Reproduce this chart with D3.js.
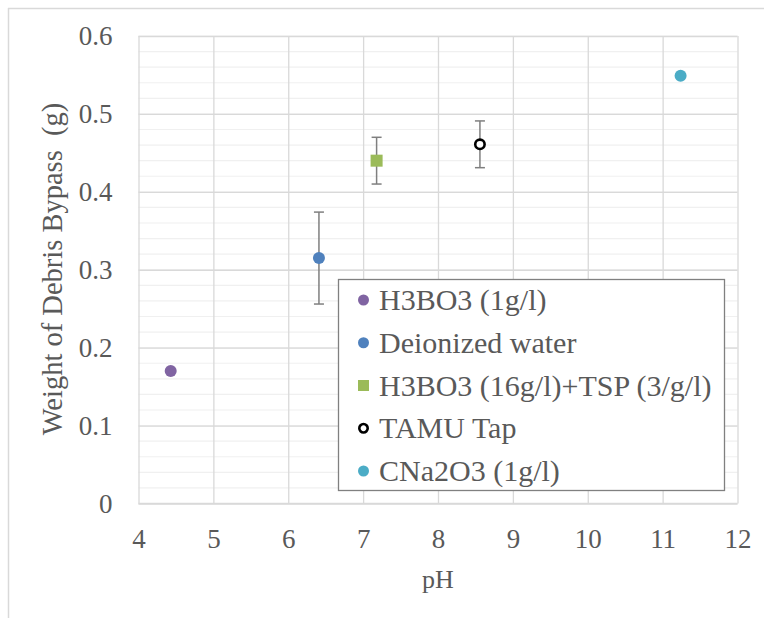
<!DOCTYPE html>
<html>
<head>
<meta charset="utf-8">
<script src="https://cdn.jsdelivr.net/npm/d3@7"></script>
<style>
  body { margin: 0; background: #fff; }
  text { font-family: "Liberation Serif", "Times New Roman", serif; fill: #595959; }
</style>
</head>
<body>
<div id="chart"></div>
<script>
// data
var seriesNames = ["H3BO3 (1g/l)", "Deionized water", "H3BO3 (16g/l)+TSP (3/g/l)", "TAMU Tap", "CNa2O3 (1g/l)"];
var phValues = [4.43, 6.41, 7.18, 8.56, 11.24];
var weights = [0.17, 0.315, 0.44, 0.461, 0.549];
var errors = [0, 0.059, 0.03, 0.03, 0];
var xTicks = [4, 5, 6, 7, 8, 9, 10, 11, 12];
var yTicks = [0, 0.1, 0.2, 0.3, 0.4, 0.5, 0.6];

var colors = ["#8064A2", "#4F81BD", "#9BBB59", "#000000", "#4BACC6"];
var shapes = ["circle", "circle", "square", "ring", "circle"];

var W = 764, H = 618;
var margin = {top: 36, right: 26.5, bottom: 114.5, left: 138.5};
var width = W - margin.left - margin.right;
var height = H - margin.top - margin.bottom;
var serif = '"Liberation Serif", "Times New Roman", serif';

var svg = d3.select("#chart").append("svg")
    .attr("width", W)
    .attr("height", H);

// outer frame (only top and left show)
svg.append("line").attr("x1", 8).attr("x2", W).attr("y1", 8.5).attr("y2", 8.5)
    .attr("stroke", "#d9d9d9").attr("stroke-width", 1.5);
svg.append("line").attr("x1", 8.5).attr("x2", 8.5).attr("y1", 8).attr("y2", H)
    .attr("stroke", "#d9d9d9").attr("stroke-width", 1.5);

var g = svg.append("g")
    .attr("transform", "translate(" + margin.left + "," + margin.top + ")");

var x = d3.scaleLinear().domain([4, 12]).range([0, width]);
var y = d3.scaleLinear().domain([0, 0.6]).range([height, 0]);

// minor horizontal grid
var minor = d3.range(0, 0.6001, 0.02);
g.append("g").selectAll("line")
    .data(minor)
  .enter().append("line")
    .attr("x1", 0).attr("x2", width)
    .attr("y1", function(d) { return y(d); })
    .attr("y2", function(d) { return y(d); })
    .attr("stroke", "#f0f0f0").attr("stroke-width", 1.2);

// major grid
var gridY = d3.axisLeft(y).tickValues(yTicks).tickSize(-width).tickFormat("");
g.append("g").attr("class", "grid").call(gridY);
var gridX = d3.axisBottom(x).tickValues(xTicks).tickSize(-height).tickFormat("");
g.append("g").attr("class", "grid").attr("transform", "translate(0," + height + ")").call(gridX);
g.selectAll(".grid .domain").remove();
g.selectAll(".grid line").attr("stroke", "#d9d9d9").attr("stroke-width", 1.3);

// axis line
g.append("line").attr("x1", 0).attr("x2", width).attr("y1", height).attr("y2", height)
    .attr("stroke", "#d9d9d9").attr("stroke-width", 1.5);

// tick labels
var axisB = d3.axisBottom(x).tickValues(xTicks).tickSize(0).tickPadding(44).tickFormat(d3.format("d"));
var xa = g.append("g").attr("transform", "translate(0," + height + ")").call(axisB);
var axisL = d3.axisLeft(y).tickValues(yTicks).tickSize(0).tickPadding(26)
    .tickFormat(function(d) { return d === 0 ? "0" : d3.format(".1f")(d); });
var ya = g.append("g").call(axisL);
[xa, ya].forEach(function(a) {
  a.attr("font-family", null);
  a.select(".domain").remove();
  a.selectAll("text").attr("font-size", 27).attr("fill", "#595959")
      .style("font-family", serif);
});
xa.selectAll("text").attr("dy", "0");
ya.selectAll("text").attr("dy", "0.33em");

// axis titles
svg.append("text")
    .attr("x", margin.left + width / 2).attr("y", 588)
    .attr("text-anchor", "middle").attr("font-size", 26)
    .style("font-family", serif)
    .text("pH");
svg.append("text")
    .attr("transform", "translate(52," + 269 + ") rotate(-90)")
    .attr("text-anchor", "middle").attr("font-size", 28.5)
    .attr("dy", "0.35em")
    .style("font-family", serif)
    .style("white-space", "pre")
    .text("Weight of Debris Bypass  (g)");

// error bars
var idx = d3.range(weights.length).filter(function(i) { return errors[i] > 0; });
var eb = g.append("g").selectAll("g").data(idx).enter().append("g")
    .attr("stroke", "#7f7f7f").attr("stroke-width", 1.5);
eb.append("line")
    .attr("x1", function(i) { return x(phValues[i]); })
    .attr("x2", function(i) { return x(phValues[i]); })
    .attr("y1", function(i) { return y(weights[i] + errors[i]); })
    .attr("y2", function(i) { return y(weights[i] - errors[i]); });
[1, -1].forEach(function(s) {
  eb.append("line")
      .attr("x1", function(i) { return x(phValues[i]) - 5; })
      .attr("x2", function(i) { return x(phValues[i]) + 5; })
      .attr("y1", function(i) { return y(weights[i] + s * errors[i]); })
      .attr("y2", function(i) { return y(weights[i] + s * errors[i]); });
});

function drawMarker(sel, i, r) {
  if (shapes[i] === "square") {
    sel.append("rect").attr("x", -r).attr("y", -r).attr("width", 2 * r).attr("height", 2 * r)
        .attr("fill", colors[i]);
  } else if (shapes[i] === "ring") {
    sel.append("circle").attr("r", r - 1.3).attr("fill", "#fff")
        .attr("stroke", colors[i]).attr("stroke-width", 2.6);
  } else {
    sel.append("circle").attr("r", r).attr("fill", colors[i]);
  }
}

// points
d3.range(weights.length).forEach(function(i) {
  var m = g.append("g")
      .attr("transform", "translate(" + x(phValues[i]) + "," + y(weights[i]) + ")");
  drawMarker(m, i, 6);
});

// legend
var lg = svg.append("g").attr("transform", "translate(338.5,279.5)");
lg.append("rect").attr("width", 386).attr("height", 211)
    .attr("fill", "#fff").attr("stroke", "#808080").attr("stroke-width", 1.3);
var rowY = d3.scaleLinear().domain([0, 4]).range([20.5, 191.5]);
seriesNames.forEach(function(name, i) {
  var row = lg.append("g").attr("transform", "translate(0," + rowY(i) + ")");
  var m = row.append("g").attr("transform", "translate(25,0)");
  drawMarker(m, i, 5.5);
  row.append("text").attr("x", 40.5).attr("dy", "0.34em")
      .attr("font-size", 30)
      .style("font-family", serif)
      .text(name);
});
</script>
</body>
</html>
